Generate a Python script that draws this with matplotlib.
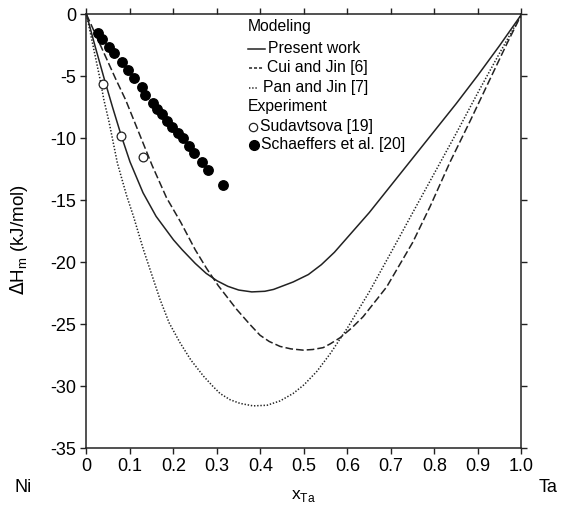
import matplotlib.pyplot as plt
from matplotlib.lines import Line2D

plt.rcParams['font.family'] = ['Liberation Sans', 'DejaVu Sans']
plt.rcParams['axes.unicode_minus'] = False
plt.rcParams['lines.scale_dashes'] = False

# enthalpy of mixing, Ni-Ta liquid, kJ/mol
x_present = [0, 0.02, 0.04, 0.06, 0.08, 0.10, 0.13, 0.16, 0.20, 0.22, 0.25, 0.275, 0.30,
             0.325, 0.35, 0.38, 0.41, 0.43, 0.475, 0.51, 0.54, 0.57, 0.60, 0.65, 0.70,
             0.75, 0.80, 0.85, 0.90, 0.95, 1.0]
h_present = [0, -2.6, -5.1, -7.5, -9.8, -11.9, -14.4, -16.3, -18.2, -19.0, -20.1, -20.9, -21.5,
             -21.95, -22.25, -22.4, -22.35, -22.2, -21.6, -21.0, -20.2, -19.2, -18.0, -16.0, -13.8,
             -11.6, -9.4, -7.2, -4.9, -2.5, 0]

x_cui = [0, 0.067, 0.09, 0.113, 0.151, 0.184, 0.217, 0.25, 0.276, 0.303, 0.345, 0.375, 0.399,
         0.42, 0.445, 0.47, 0.498, 0.52, 0.544, 0.56, 0.583, 0.61, 0.636, 0.69, 0.75, 0.79,
         0.836, 0.882, 0.928, 0.966, 1.0]
h_cui = [0, -5.2, -6.9, -8.9, -12.2, -14.8, -16.8, -19.0, -20.5, -21.9, -23.8, -25.0, -25.9,
         -26.4, -26.8, -27.0, -27.1, -27.05, -26.9, -26.6, -26.1, -25.3, -24.4, -22.0, -18.4, -15.5,
         -11.9, -8.6, -5.2, -2.4, 0]

x_pan = [0, 0.031, 0.04, 0.052, 0.071, 0.092, 0.108, 0.131, 0.15, 0.169, 0.19, 0.215, 0.24,
         0.269, 0.29, 0.307, 0.33, 0.353, 0.383, 0.415, 0.445, 0.475, 0.50, 0.53, 0.56, 0.60,
         0.65, 0.705, 0.75, 0.80, 0.85, 0.90, 0.95, 1.0]
h_pan = [0, -5.2, -6.9, -8.7, -12.0, -14.6, -16.3, -19.0, -21.0, -23.0, -24.9, -26.5, -27.9,
         -29.2, -30.0, -30.6, -31.1, -31.4, -31.6, -31.55, -31.2, -30.6, -29.9, -28.8, -27.4, -25.3,
         -22.4, -18.9, -16.0, -12.8, -9.6, -6.3, -3.1, 0]

x_sudav = [0.038, 0.079, 0.130]
h_sudav = [-5.6, -9.8, -11.5]

x_schaef = [0.027, 0.035, 0.052, 0.064, 0.081, 0.096, 0.109, 0.127, 0.135, 0.152, 0.161,
            0.173, 0.184, 0.197, 0.210, 0.223, 0.236, 0.248, 0.265, 0.279, 0.313]
h_schaef = [-1.52, -2.01, -2.60, -3.14, -3.81, -4.48, -5.10, -5.83, -6.50, -7.12, -7.65,
            -8.06, -8.60, -9.06, -9.59, -9.94, -10.59, -11.20, -11.93, -12.55, -13.76]

xticks = [0, 0.1, 0.2, 0.3, 0.4, 0.5, 0.6, 0.7, 0.8, 0.9, 1.0]
xticklabels = ['0', '0.1', '0.2', '0.3', '0.4', '0.5', '0.6', '0.7', '0.8', '0.9', '1.0']
yticks = [0, -5, -10, -15, -20, -25, -30, -35]

ink = '#222222'
dash_style = (0, (5.5, 2.2))
dot_style = (0, (1.0, 1.3))

fig = plt.figure(figsize=(5.69, 5.14), dpi=100)
ax = fig.add_axes([0.152, 0.1284, 0.7645, 0.8436])

ax.plot(x_present, h_present, color=ink, lw=1.1, ls='-')
ax.plot(x_cui, h_cui, color=ink, lw=1.1, ls=dash_style)
ax.plot(x_pan, h_pan, color=ink, lw=1.1, ls=dot_style)
ax.plot(x_sudav, h_sudav, ls='none', marker='o', ms=6.3, mfc='white', mec=ink, mew=0.9)
ax.plot(x_schaef, h_schaef, ls='none', marker='o', ms=6.8, mfc='black', mec='black')

ax.set_xlim(0, 1)
ax.set_ylim(-35, 0)
ax.set_xticks(xticks)
ax.set_xticklabels(xticklabels)
ax.set_yticks(yticks)
ax.tick_params(direction='out', length=4.3, width=1.0, labelsize=13, pad=3,
               top=True, right=True, colors=ink, labelcolor='black')
for s in ax.spines.values():
    s.set_linewidth(1.1)
    s.set_color(ink)

ax.set_ylabel(r'$\Delta$H$_\mathregular{m}$ (kJ/mol)', fontsize=13.5)
ax.yaxis.set_label_coords(-0.130, 0.48)
ax.set_xlabel(r'x$_\mathregular{Ta}$', fontsize=12.5, labelpad=9)
ax.text(-0.145, -0.092, 'Ni', transform=ax.transAxes, fontsize=13, ha='center', va='center')
ax.text(1.06, -0.092, 'Ta', transform=ax.transAxes, fontsize=13, ha='center', va='center')

# hand-made legend with section headers
tr = ax.transAxes
def px(xp, yp):
    return ((xp - 86.5) / 435.0, (448.0 - yp) / 433.6)

fs = 11.3
ax.text(*px(248, 27), 'Modeling', transform=tr, fontsize=fs, va='center')
ax.add_line(Line2D([px(248, 49)[0], px(265, 49)[0]], [px(248, 49)[1]] * 2, transform=tr,
                   color=ink, lw=1.1))
ax.text(*px(268, 49), 'Present work', transform=tr, fontsize=fs, va='center')
ax.add_line(Line2D([px(249, 68)[0], px(263, 68)[0]], [px(249, 68)[1]] * 2, transform=tr,
                   color=ink, lw=1.1, ls=(0, (2.2, 1.4))))
ax.text(*px(267, 68), 'Cui and Jin [6]', transform=tr, fontsize=fs, va='center')
ax.add_line(Line2D([px(249, 88)[0], px(257, 88)[0]], [px(249, 88)[1]] * 2, transform=tr,
                   color=ink, lw=1.1, ls=dot_style))
ax.text(*px(263, 88), 'Pan and Jin [7]', transform=tr, fontsize=fs, va='center')
ax.text(*px(248, 107), 'Experiment', transform=tr, fontsize=fs, va='center')
ax.plot(*px(253, 127), transform=tr, marker='o', ms=6, mfc='white', mec=ink, mew=0.9)
ax.text(*px(260, 127), 'Sudavtsova [19]', transform=tr, fontsize=fs, va='center')
ax.plot(*px(254, 145), transform=tr, marker='o', ms=7, mfc='black', mec='black')
ax.text(*px(261, 145), 'Schaeffers et al. [20]', transform=tr, fontsize=fs, va='center')

fig.savefig('out.png', dpi=100)
